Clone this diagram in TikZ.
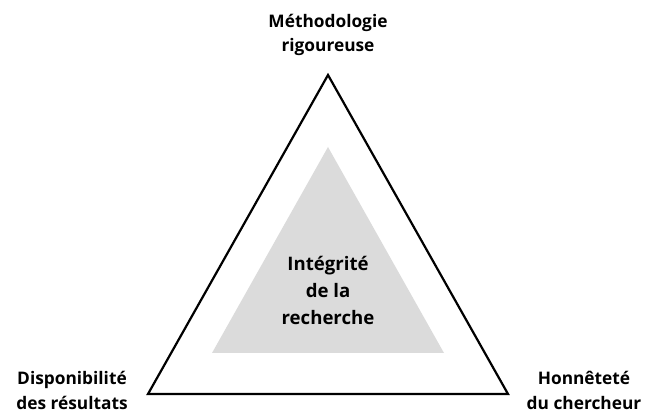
\documentclass[tikz,border=0pt]{standalone}
\usepackage{fontspec}
\setmainfont{Open Sans}
\begin{document}
\begin{tikzpicture}[x=1pt,y=1pt,
    pillar/.style={align=center,inner sep=0pt,font=\bfseries\fontsize{17.3}{24.5}\selectfont},
    core/.style={align=center,font=\bfseries\fontsize{18.6}{27}\selectfont}]
        \useasboundingbox (0,0) rectangle (646,412);
        \coordinate (top) at (328,337);
        \coordinate (left) at (148,18);
        \coordinate (right) at (508,18);
        \fill[gray!28] (328,265) -- (212,59) -- (444,59) -- cycle;
        \draw[line width=2.2pt,line join=miter] (top) -- (left) -- (right) -- cycle;
        \node[core] (integrite) at (328,122) {Intégrité\\de la\\recherche};
        \node[pillar] (methode) at (328,377) {Méthodologie\\rigoureuse};
        \node[pillar] (dispo) at (72,21.5) {Disponibilité\\des résultats};
        \node[pillar] (honnete) at (584,21.5) {Honnêteté\\du chercheur};
      \end{tikzpicture}
\end{document}
